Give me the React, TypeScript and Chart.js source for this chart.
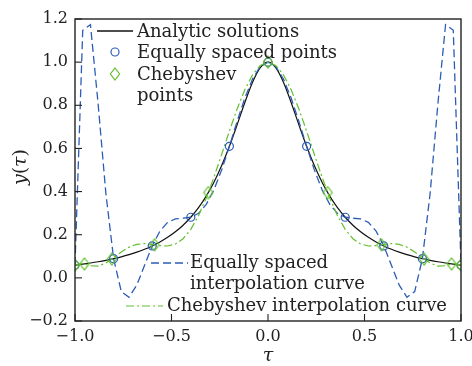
import React, { useEffect, useRef } from 'react';
import { Chart, registerables } from 'chart.js';

Chart.register(...registerables);

// ---- data ----
const tauGrid = [-1, -0.96, -0.92, -0.88, -0.84, -0.8, -0.76, -0.72, -0.68, -0.64, -0.6, -0.56, -0.52, -0.48, -0.44, -0.4, -0.36, -0.32, -0.28, -0.24, -0.2, -0.16, -0.12, -0.08, -0.04, 0, 0.04, 0.08, 0.12, 0.16, 0.2, 0.24, 0.28, 0.32, 0.36, 0.4, 0.44, 0.48, 0.52, 0.56, 0.6, 0.64, 0.68, 0.72, 0.76, 0.8, 0.84, 0.88, 0.92, 0.96, 1];

const analyticY = [0.0588, 0.0635, 0.0688, 0.0747, 0.0814, 0.0890, 0.0976, 0.1076, 0.1191, 0.1324, 0.1479, 0.1662, 0.1877, 0.2134, 0.2441, 0.2809, 0.3254, 0.3790, 0.4436, 0.5204, 0.6098, 0.7094, 0.8127, 0.9071, 0.9750, 1, 0.9750, 0.9071, 0.8127, 0.7094, 0.6098, 0.5204, 0.4436, 0.3790, 0.3254, 0.2809, 0.2441, 0.2134, 0.1877, 0.1662, 0.1479, 0.1324, 0.1191, 0.1076, 0.0976, 0.0890, 0.0814, 0.0747, 0.0688, 0.0635, 0.0588];

const equalInterpY = [0.0588, 1.1475, 1.1740, 0.8041, 0.3910, 0.0890, -0.0639, -0.0898, -0.0339, 0.0573, 0.1479, 0.2168, 0.2572, 0.2733, 0.2765, 0.2809, 0.2992, 0.3404, 0.4082, 0.5005, 0.6098, 0.7251, 0.8334, 0.9220, 0.9799, 1, 0.9799, 0.9220, 0.8334, 0.7251, 0.6098, 0.5005, 0.4082, 0.3404, 0.2992, 0.2809, 0.2765, 0.2733, 0.2572, 0.2168, 0.1479, 0.0573, -0.0339, -0.0898, -0.0639, 0.0890, 0.3910, 0.8041, 1.1740, 1.1475, 0.0588];

const chebInterpY = [0.0588, 0.0669, 0.0561, 0.0547, 0.0687, 0.0932, 0.1202, 0.1424, 0.1554, 0.1587, 0.1550, 0.1493, 0.1478, 0.1568, 0.1814, 0.2249, 0.2883, 0.3703, 0.4670, 0.5729, 0.6808, 0.7831, 0.8722, 0.9413, 0.9850, 1, 0.9850, 0.9413, 0.8722, 0.7831, 0.6808, 0.5729, 0.4670, 0.3703, 0.2883, 0.2249, 0.1814, 0.1568, 0.1478, 0.1493, 0.1550, 0.1587, 0.1554, 0.1424, 0.1202, 0.0932, 0.0687, 0.0547, 0.0561, 0.0669, 0.0588];

const equalTau = [-1, -0.8, -0.6, -0.4, -0.2, 0, 0.2, 0.4, 0.6, 0.8, 1];
const equalY = [0.0588, 0.0890, 0.1479, 0.2809, 0.6098, 1, 0.6098, 0.2809, 0.1479, 0.0890, 0.0588];

const chebTau = [-1, -0.9511, -0.8090, -0.5878, -0.3090, 0, 0.3090, 0.5878, 0.8090, 0.9511, 1];
const chebY = [0.0588, 0.0646, 0.0872, 0.1532, 0.3956, 1, 0.3956, 0.1532, 0.0872, 0.0646, 0.0588];

const xTickValues = [-1, -0.5, 0, 0.5, 1];
const yTickValues = [-0.2, 0, 0.2, 0.4, 0.6, 0.8, 1.0, 1.2];

const legendLabels = ['Analytic solutions', 'Equally spaced points', 'Chebyshev', 'points'];
const curveLabels = ['Equally spaced', 'interpolation curve', 'Chebyshev interpolation curve'];

// ---- styles ----
const FONT = '"DejaVu Serif", serif';
const BLUE = '#2c5cb6';
const GREEN = '#63bf2e';
const BLACK = '#111111';
const AXIS = '#222222';

const fmt = (v: number) => {
  if (Math.abs(v) < 1e-9) return '0.0';
  return (v < 0 ? '\u2212' : '') + Math.abs(v).toFixed(1);
};

function makeDiamond(): HTMLCanvasElement {
  const c = document.createElement('canvas');
  c.width = 12;
  c.height = 14;
  const g = c.getContext('2d')!;
  g.strokeStyle = GREEN;
  g.lineWidth = 1.2;
  g.beginPath();
  g.moveTo(6, 1);
  g.lineTo(10.6, 7);
  g.lineTo(6, 13);
  g.lineTo(1.4, 7);
  g.closePath();
  g.stroke();
  return c;
}

export default function App() {
  const ref = useRef<HTMLCanvasElement | null>(null);

  useEffect(() => {
    if (!ref.current) return;
    const diamond = makeDiamond();

    const decor = {
      id: 'decor',
      afterDatasetsDraw(chart: any) {
        const { ctx, chartArea: a, scales } = chart;
        ctx.save();
        // inward ticks
        ctx.strokeStyle = AXIS;
        ctx.lineWidth = 1.1;
        yTickValues.forEach((v) => {
          const y = scales.y.getPixelForValue(v);
          ctx.beginPath();
          ctx.moveTo(a.left, y);
          ctx.lineTo(a.left + 7, y);
          ctx.stroke();
        });
        xTickValues.forEach((v) => {
          const x = scales.x.getPixelForValue(v);
          ctx.beginPath();
          ctx.moveTo(x, a.bottom);
          ctx.lineTo(x, a.bottom - 7);
          ctx.stroke();
        });
        // frame
        ctx.lineWidth = 1.4;
        ctx.strokeRect(a.left, a.top, a.right - a.left, a.bottom - a.top);

        // upper legend
        ctx.font = `18px ${FONT}`;
        ctx.fillStyle = '#222';
        ctx.textBaseline = 'middle';
        ctx.textAlign = 'left';
        const L = a.left, T = a.top;
        ctx.strokeStyle = BLACK;
        ctx.lineWidth = 1.3;
        ctx.setLineDash([]);
        ctx.beginPath();
        ctx.moveTo(L + 22, T + 12);
        ctx.lineTo(L + 58, T + 12);
        ctx.stroke();
        ctx.fillText(legendLabels[0], L + 62, T + 13);

        ctx.strokeStyle = BLUE;
        ctx.lineWidth = 1.2;
        ctx.beginPath();
        ctx.arc(L + 40, T + 33, 4, 0, Math.PI * 2);
        ctx.stroke();
        ctx.fillText(legendLabels[1], L + 62, T + 34);

        ctx.drawImage(diamond, L + 40 - 6, T + 55 - 7);
        ctx.fillText(legendLabels[2], L + 62, T + 56);
        ctx.fillText(legendLabels[3], L + 62, T + 77);

        // lower legend
        ctx.strokeStyle = BLUE;
        ctx.lineWidth = 1.3;
        ctx.setLineDash([8, 4]);
        ctx.beginPath();
        ctx.moveTo(L + 76, T + 244);
        ctx.lineTo(L + 113, T + 244);
        ctx.stroke();
        ctx.fillText(curveLabels[0], L + 115, T + 244);
        ctx.fillText(curveLabels[1], L + 115, T + 265);

        ctx.strokeStyle = GREEN;
        ctx.lineWidth = 1.2;
        ctx.setLineDash([8, 3, 2, 3]);
        ctx.beginPath();
        ctx.moveTo(L + 51, T + 287);
        ctx.lineTo(L + 88, T + 287);
        ctx.stroke();
        ctx.setLineDash([]);
        ctx.fillText(curveLabels[2], L + 92, T + 287);

        // axis titles
        const drawSegs = (segs: [string, boolean][], cx: number, cy: number, rot: number) => {
          ctx.save();
          ctx.translate(cx, cy);
          ctx.rotate(rot);
          let total = 0;
          segs.forEach(([t, it]) => {
            ctx.font = `${it ? 'italic ' : ''}19px ${FONT}`;
            total += ctx.measureText(t).width;
          });
          let x = -total / 2;
          ctx.textAlign = 'left';
          ctx.textBaseline = 'middle';
          segs.forEach(([t, it]) => {
            ctx.font = `${it ? 'italic ' : ''}19px ${FONT}`;
            ctx.fillText(t, x, 0);
            x += ctx.measureText(t).width;
          });
          ctx.restore();
        };
        drawSegs([['y', true], ['(', false], ['\u03C4', true], [')', false]], 21, (a.top + a.bottom) / 2 - 3, -Math.PI / 2);
        drawSegs([['\u03C4', true]], (a.left + a.right) / 2, 356, 0);

        ctx.restore();
      },
    };

    const toXY = (xs: number[], ys: number[]) => xs.map((x, i) => ({ x, y: ys[i] }));

    const chart = new Chart(ref.current, {
      type: 'scatter',
      data: {
        datasets: [
          {
            label: 'Chebyshev points',
            data: toXY(chebTau, chebY),
            showLine: false,
            pointStyle: diamond as any,
            pointRadius: 6,
            order: 1,
          } as any,
          {
            label: 'Equally spaced points',
            data: toXY(equalTau, equalY),
            showLine: false,
            pointStyle: 'circle',
            pointRadius: 4,
            pointBorderWidth: 1.2,
            borderColor: BLUE,
            backgroundColor: 'rgba(0,0,0,0)',
            order: 2,
          },
          {
            label: 'Chebyshev interpolation curve',
            data: toXY(tauGrid, chebInterpY),
            showLine: true,
            borderColor: GREEN,
            borderWidth: 1.2,
            borderDash: [8, 3, 2, 3],
            pointRadius: 0,
            tension: 0,
            order: 3,
          },
          {
            label: 'Equally spaced interpolation curve',
            data: toXY(tauGrid, equalInterpY),
            showLine: true,
            borderColor: BLUE,
            borderWidth: 1.3,
            borderDash: [8, 4],
            pointRadius: 0,
            tension: 0,
            order: 4,
          },
          {
            label: 'Analytic solutions',
            data: toXY(tauGrid, analyticY),
            showLine: true,
            borderColor: BLACK,
            borderWidth: 1.2,
            pointRadius: 0,
            cubicInterpolationMode: 'monotone',
            order: 5,
          },
        ],
      },
      options: {
        responsive: false,
        devicePixelRatio: 1,
        animation: false,
        events: [],
        layout: { padding: { left: 0, right: 11, top: 19, bottom: 0 } },
        plugins: { legend: { display: false }, tooltip: { enabled: false } },
        scales: {
          x: {
            type: 'linear',
            min: -1,
            max: 1,
            afterBuildTicks: (s: any) => {
              s.ticks = xTickValues.map((v) => ({ value: v }));
            },
            afterFit: (s: any) => {
              s.height = 45;
              s.paddingLeft = 0;
              s.paddingRight = 0;
            },
            ticks: {
              font: { family: FONT, size: 16 },
              color: AXIS,
              padding: 6,
              maxRotation: 0,
              autoSkip: false,
              callback: (v: any) => fmt(Number(v)),
            },
            grid: { display: false, drawTicks: false },
            border: { display: false },
          },
          y: {
            type: 'linear',
            min: -0.2,
            max: 1.2,
            afterBuildTicks: (s: any) => {
              s.ticks = yTickValues.map((v) => ({ value: v }));
            },
            afterFit: (s: any) => {
              s.width = 75;
              s.paddingTop = 0;
              s.paddingBottom = 0;
            },
            ticks: {
              font: { family: FONT, size: 16 },
              color: AXIS,
              padding: 7,
              autoSkip: false,
              callback: (v: any) => fmt(Number(v)),
            },
            grid: { display: false, drawTicks: false },
            border: { display: false },
          },
        },
      },
      plugins: [decor],
    } as any);

    return () => chart.destroy();
  }, []);

  return (
    <div style={{ position: 'fixed', left: 0, top: 0, width: 472, height: 366, background: '#fff' }}>
      <canvas ref={ref} width={472} height={366} style={{ display: 'block', width: 472, height: 366 }} />
    </div>
  );
}
